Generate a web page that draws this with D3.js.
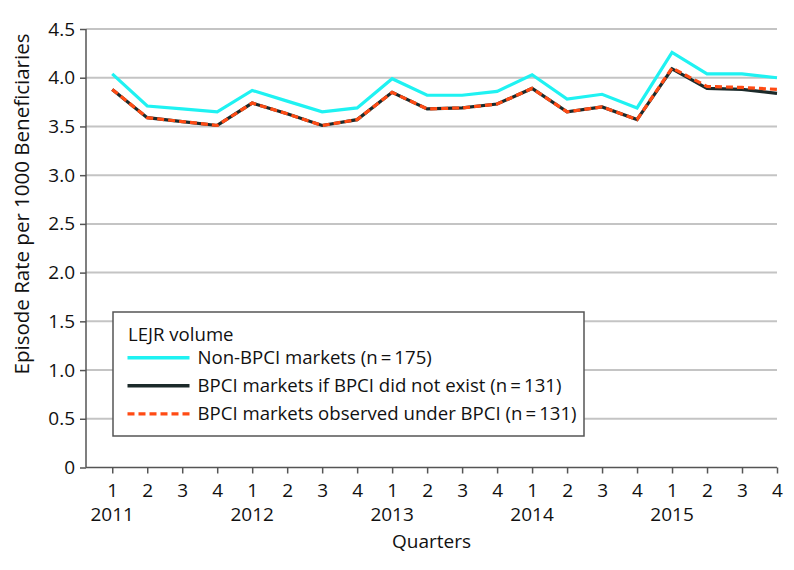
<!DOCTYPE html>
<html>
<head>
<meta charset="utf-8">
<script src="https://cdn.jsdelivr.net/npm/d3@7"></script>
<style>
  html, body { margin: 0; padding: 0; background: #fff; }
  svg { display: block; font-family: "Open Sans", "Noto Sans", sans-serif; }
</style>
</head>
<body>
<svg id="chart" width="794" height="570"></svg>
<script>
// ---- data ----
const quarterLabels = ["1","2","3","4","1","2","3","4","1","2","3","4","1","2","3","4","1","2","3","4"];
const yearLabels = ["2011","2012","2013","2014","2015"];
const yTicks = [0, 0.5, 1.0, 1.5, 2.0, 2.5, 3.0, 3.5, 4.0, 4.5];
const nonBPCI = [4.04, 3.71, 3.68, 3.65, 3.87, 3.76, 3.65, 3.69, 3.99, 3.82, 3.82, 3.86, 4.03, 3.78, 3.83, 3.69, 4.26, 4.04, 4.04, 4.00];
const bpciCounterfactual = [3.88, 3.59, 3.55, 3.51, 3.74, 3.63, 3.51, 3.57, 3.85, 3.68, 3.69, 3.73, 3.89, 3.65, 3.70, 3.57, 4.09, 3.89, 3.88, 3.84];
const bpciObserved = [3.88, 3.59, 3.55, 3.51, 3.74, 3.63, 3.51, 3.57, 3.85, 3.68, 3.69, 3.73, 3.89, 3.65, 3.70, 3.57, 4.10, 3.91, 3.90, 3.88];
const seriesNames = ["Non-BPCI markets (n\u2009=\u2009175)", "BPCI markets if BPCI did not exist (n\u2009=\u2009131)", "BPCI markets observed under BPCI (n\u2009=\u2009131)"];
const legendTitle = "LEJR volume";
const xTitle = "Quarters";
const yTitle = "Episode Rate per 1000 Beneficiaries";

(function () {
// ---- layout ----
const svg = d3.select("#chart");
const pLeft = 86, pRight = 777, pTop = 29, pBottom = 467.5;
const x = d3.scaleLinear().domain([-0.75, quarterLabels.length - 1]).range([pLeft, pRight]);
const y = d3.scaleLinear().domain([0, 4.5]).range([pBottom, pTop]);
const axisColor = "#555";
const fontSize = 19;
const textColor = "#111";

// gridlines
svg.append("g").selectAll("line").data(yTicks.filter(d => d > 0)).join("line")
  .attr("x1", pLeft).attr("x2", pRight)
  .attr("y1", d => y(d)).attr("y2", d => y(d))
  .attr("stroke", "#c4c4c4").attr("stroke-width", 2);

// y axis
const yAxis = d3.axisLeft(y).tickValues(yTicks).tickSize(6).tickPadding(5)
  .tickFormat(d => d === 0 ? "0" : d3.format(".1f")(d));
const gy = svg.append("g").attr("transform", `translate(${pLeft},0)`).call(yAxis);
gy.select(".domain").attr("stroke", axisColor).attr("stroke-width", 1.5).attr("d", `M0,${pTop}V${pBottom}`);
gy.selectAll(".tick line").attr("stroke", axisColor).attr("stroke-width", 1.5);
gy.selectAll(".tick text").attr("fill", textColor).style("font-size", fontSize + "px").style("font-family", "Open Sans");

// x axis
const xAxis = d3.axisBottom(x).tickValues(d3.range(quarterLabels.length)).tickSize(6).tickPadding(10)
  .tickFormat(i => quarterLabels[i]);
const gx = svg.append("g").attr("transform", `translate(0,${pBottom})`).call(xAxis);
gx.select(".domain").attr("stroke", axisColor).attr("stroke-width", 1.5).attr("d", `M${pLeft},0H${pRight}`);
gx.selectAll(".tick line").attr("stroke", axisColor).attr("stroke-width", 1.5);
gx.selectAll(".tick text").attr("fill", textColor).style("font-size", fontSize + "px").style("font-family", "Open Sans");

// year labels
svg.append("g").selectAll("text").data(yearLabels).join("text")
  .attr("x", (d, i) => x(i * 4)).attr("y", 521)
  .attr("text-anchor", "middle").attr("fill", textColor)
  .style("font-size", fontSize + "px")
  .text(d => d);

// axis titles
svg.append("text").attr("x", (pLeft + pRight) / 2).attr("y", 548)
  .attr("text-anchor", "middle").attr("fill", textColor).style("font-size", fontSize + "px").text(xTitle);
svg.append("text").attr("transform", `translate(29,204) rotate(-90)`)
  .attr("text-anchor", "middle").attr("fill", textColor).style("font-size", "20.5px").text(yTitle);

// lines
const line = d3.line().x((d, i) => x(i)).y(d => y(d));
const seriesStyles = [
  { data: nonBPCI, color: "#1ff2f2", dash: null },
  { data: bpciCounterfactual, color: "#1c2a2a", dash: null },
  { data: bpciObserved, color: "#ff4b14", dash: "7,4" }
];
svg.append("g").selectAll("path").data(seriesStyles).join("path")
  .attr("d", s => line(s.data))
  .attr("fill", "none")
  .attr("stroke", s => s.color)
  .attr("stroke-width", 3.2)
  .attr("stroke-dasharray", s => s.dash);

// legend
const lg = svg.append("g");
lg.append("rect").attr("x", 113).attr("y", 312).attr("width", 471).attr("height", 124)
  .attr("fill", "#fff").attr("stroke", axisColor).attr("stroke-width", 1.5);
lg.append("text").attr("x", 128).attr("y", 341).attr("fill", textColor).style("font-size", "18.6px").text(legendTitle);
const items = lg.selectAll("g.item").data(seriesStyles).join("g").attr("class", "item")
  .attr("transform", (d, i) => `translate(127.5,${357.7 + i * 28.1})`);
items.append("line").attr("x1", 0).attr("x2", 62).attr("y1", 0).attr("y2", 0)
  .attr("stroke", d => d.color).attr("stroke-width", 3.4).attr("stroke-dasharray", d => d.dash);
items.append("text").attr("x", 70).attr("y", 6.5).attr("fill", textColor).style("font-size", "18.6px")
  .text((d, i) => seriesNames[i]);
})();
</script>
</body>
</html>
